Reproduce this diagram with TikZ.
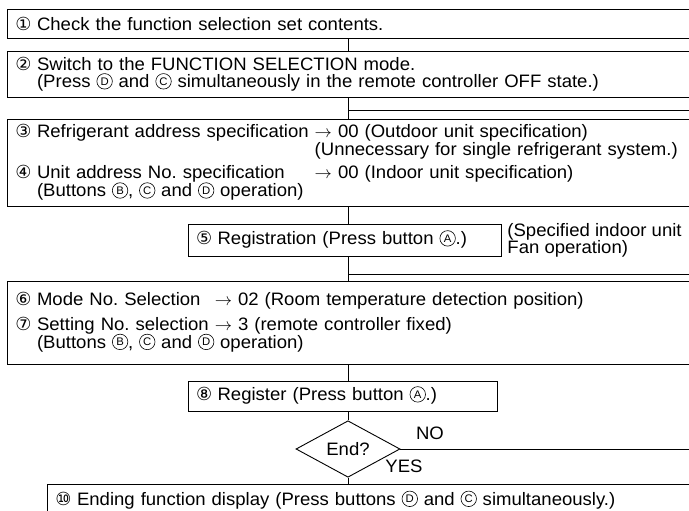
\documentclass[tikz,border=0pt]{standalone}
\usepackage{fontspec}
\usepackage{pict2e}
\setmainfont{Liberation Sans}[FakeStretch=1.03]
\newfontfamily\encfont{DejaVu Sans}[Scale=1.0]
\usetikzlibrary{shapes.geometric}

\newcommand{\enc}[1]{{\encfont #1}}
\newcommand{\itm}[1]{\makebox[1.2em][l]{\enc{#1}}}
\newcommand{\hang}{\hspace*{1.2em}}
% circled button letter
\newcommand{\btn}[1]{{\setlength{\unitlength}{1pt}\begin{picture}(16,10)
  \linethickness{0.6pt}\put(8,6.4){\circle{15.5}}
  \put(8,6.4){\makebox(0,0){\fontsize{11}{11}\selectfont #1}}\end{picture}}}

\tikzset{
  wide/.style={draw, anchor=north west, inner xsep=8pt, inner ysep=0pt,
    minimum width=#1, text width=#1-16pt, align=left},
  stepbox/.style={draw, inner xsep=8pt, inner ysep=0pt, minimum width=#1,
    text width=#1-16pt, align=left},
  ask/.style={draw, shape=diamond, minimum width=104pt, minimum height=44pt, inner sep=0pt}
}

\begin{document}
\frenchspacing
\begin{tikzpicture}[x=1pt,y=-1pt,line width=0.9pt,font=\fontsize{18}{17}\selectfont]
  \clip (0,0) rectangle (689,511);
  \coordinate (axis) at (348,0);
  \coordinate (rim) at (720,0);

  \node[wide=713pt, minimum height=29pt] (b1) at (7,9)
    {\itm{①}Check the function selection set contents.};
  \node[wide=713pt, minimum height=46pt] (b2) at (7,51)
    {\itm{②}Switch to the FUNCTION SELECTION mode.\\
     \hang(Press \btn{D} and \btn{C} simultaneously in the remote controller OFF state.)};
  \node[wide=713pt, minimum height=87pt] (b34) at (7,119)
    {\begin{tabular}{@{}l@{ }l@{}}
     \itm{③}Refrigerant address specification & $\rightarrow$ 00 (Outdoor unit specification)\\
     & (Unnecessary for single refrigerant system.)\\[5pt]
     \itm{④}Unit address No. specification & $\rightarrow$ 00 (Indoor unit specification)\\
     \multicolumn{2}{@{}l@{}}{\hang(Buttons \btn{B}, \btn{C} and \btn{D} operation)}
     \end{tabular}};
  \node[stepbox=313pt, minimum height=32pt] (b5) at (344.5,240)
    {\itm{⑤}Registration (Press button \btn{A}.)};
  \node[anchor=west, inner sep=0pt, align=left] (note) at (507,240.5)
    {(Specified indoor unit\\Fan operation)};
  \node[wide=713pt, minimum height=83pt] (b67) at (7,281)
    {\begin{tabular}{@{}l@{ }l@{}}
     \itm{⑥}Mode No. Selection\ \  & $\rightarrow$ 02 (Room temperature detection position)\\[6pt]
     \itm{⑦}Setting No. selection & $\rightarrow$ 3 (remote controller fixed)\\
     \multicolumn{2}{@{}l@{}}{\hang(Buttons \btn{B}, \btn{C} and \btn{D} operation)}
     \end{tabular}};
  \node[stepbox=309pt, minimum height=30pt] (b8) at (342.5,396)
    {\itm{⑧}Register (Press button \btn{A}.)};
  \node[ask] (end) at (348,449) {End?};
  \node (no) at (430,433) {NO};
  \node (yes) at (404,466) {YES};
  \node[wide=680pt, minimum height=32pt] (b10) at (47,484)
    {\itm{⑩}Ending function display (Press buttons \btn{D} and \btn{C} simultaneously.)};

  % main flow
  \draw (b1.south -| axis) -- (b2.north -| axis);
  \draw (b2.south -| axis) -- (b34.north -| axis);
  \draw (b34.south -| axis) -- (b5.north -| axis);
  \draw (b5.south -| axis) -- (b67.north -| axis);
  \draw (b67.south -| axis) -- (b8.north -| axis);
  \draw (b8.south -| axis) -- (end.north);
  \draw (end.south) -- (b10.north -| axis);

  % return lines
  \coordinate (backA) at (720,110);
  \coordinate (backB) at (720,274);
  \draw (backA -| axis) -- (backA);
  \draw (backB -| axis) -- (backB);
  \draw (end.east) -- (end.east -| rim);
\end{tikzpicture}
\end{document}
